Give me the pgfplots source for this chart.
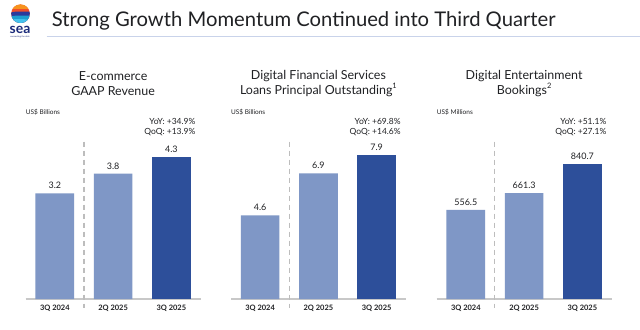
\documentclass[border=0pt]{standalone}
\usepackage{fontspec}
\setmainfont{Lato}
\usepackage{pgfplots}
\pgfplotsset{compat=1.18}
\definecolor{lightbar}{HTML}{7F97C6}
\definecolor{darkbar}{HTML}{2D4F9A}
\definecolor{axisgray}{HTML}{C8C8C8}
\definecolor{dashgray}{HTML}{BDBDBD}
\definecolor{txt}{HTML}{202124}
\definecolor{rulec}{HTML}{C9D3EA}
\definecolor{seanavy}{HTML}{1B2A7A}
\definecolor{logoA}{HTML}{F04E2B}
\definecolor{logoB}{HTML}{F7931E}
\definecolor{logoC}{HTML}{2B3A9C}
\definecolor{logoD}{HTML}{1E9FD0}
\definecolor{logoE}{HTML}{45C1EC}
\pgfplotsset{
 panel/.style={
  scale only axis, width=174.8bp, anchor=south west,
  xmin=-0.5, xmax=2.5, ymin=0,
  axis x line=bottom, axis y line=none,
  axis line style={draw=axisgray, line width=1.2bp, -},
  xtick={0,1,2}, xticklabels={3Q 2024,2Q 2025,3Q 2025},
  major tick length=0pt,
  xticklabel style={font=\fontsize{7.5}{8}\selectfont\bfseries, text=txt, yshift=-2.5bp},
  ytick=\empty,
  clip=false,
  nodes near coords, point meta=explicit symbolic,
  every node near coord/.append style={font=\fontsize{9}{10}\selectfont, text=txt, anchor=south, yshift=1bp},
 },
 lbar/.style={ybar, bar width=38.7bp, bar shift=0pt, fill=lightbar, draw=none},
 dbar/.style={ybar, bar width=38.7bp, bar shift=0pt, fill=darkbar, draw=none},
}
\newcommand{\supnum}[1]{\raisebox{0.9ex}{\fontsize{7.5}{8}\selectfont #1}}
\begin{document}
\begin{tikzpicture}[x=1bp,y=1bp]
\useasboundingbox (0,0) rectangle (640,329);
\fill[white] (0,0) rectangle (640,329);
% logo
\begin{scope}
\clip (20.5,315.3) circle (9.3);
\fill[logoA] (10,306) rectangle (31,326);
\fill[logoB] (10,320) rectangle (31,326);
\fill[logoC] (10,306) -- (31,306) -- (31,318) .. controls (26,316) and (16,319) .. (10,316) -- cycle;
\fill[logoD] (10,306) -- (31,306) -- (31,314) .. controls (26,312) and (16,315) .. (10,312) -- cycle;
\fill[logoE] (10,306) -- (31,306) -- (31,310) .. controls (26,309) and (16,311) .. (10,309) -- cycle;
\end{scope}
\node[font=\fontsize{14}{14}\selectfont\bfseries, text=seanavy, inner sep=0] at (20,299.5) {sea};
\node[font=\fontsize{2.2}{2.5}\selectfont, text=seanavy, inner sep=0] at (20,292) {connecting the dots};
% header
\node[anchor=base west, font=\fontsize{20.3}{24}\selectfont, text=txt, inner sep=0] at (51.7,302.3) {Strong Growth Momentum Continued into Third Quarter};
\draw[rulec, line width=1bp] (46.7,293) -- (640,293);

% ---------- panel 1
\begin{axis}[panel, at={(25.7bp,30bp)}, height=165bp, ymax=5]
\addplot[lbar] coordinates {(0,3.2)[3.2] (1,3.8)[3.8]};
\addplot[dbar] coordinates {(2,4.3)[4.3]};
\end{axis}
\node[align=center, font=\fontsize{12.5}{15}\selectfont, text=txt] at (113.1,245.5) {E-commerce\\GAAP Revenue};
\node[anchor=west, font=\fontsize{6.5}{7}\selectfont, text=txt, inner sep=0] at (25.7,217) {US\$ Billions};
\node[anchor=east, align=right, font=\fontsize{8.5}{9.2}\selectfont, text=txt, inner sep=0] at (195.5,202) {YoY: +34.9\%\\QoQ: +13.9\%};
\draw[dashgray, dash pattern=on 5bp off 4bp, line width=1.2bp] (84,187.3) -- (84,21);

% ---------- panel 2
\begin{axis}[panel, at={(231bp,30bp)}, height=163.8bp, ymax=9]
\addplot[lbar] coordinates {(0,4.6)[4.6] (1,6.9)[6.9]};
\addplot[dbar] coordinates {(2,7.9)[7.9]};
\end{axis}
\node[align=center, font=\fontsize{12.5}{15}\selectfont, text=txt] at (318.4,245.5) {Digital Financial Services\\Loans Principal Outstanding\supnum{1}};
\node[anchor=west, font=\fontsize{6.5}{7}\selectfont, text=txt, inner sep=0] at (231,217) {US\$ Billions};
\node[anchor=east, align=right, font=\fontsize{8.5}{9.2}\selectfont, text=txt, inner sep=0] at (400.8,202) {YoY: +69.8\%\\QoQ: +14.6\%};
\draw[dashgray, dash pattern=on 5bp off 4bp, line width=1.2bp] (289.3,187.3) -- (289.3,21);

% ---------- panel 3
\begin{axis}[panel, at={(436.7bp,30bp)}, height=160bp, ymax=1000]
\addplot[lbar] coordinates {(0,556.5)[556.5] (1,661.3)[661.3]};
\addplot[dbar] coordinates {(2,840.7)[840.7]};
\end{axis}
\node[align=center, font=\fontsize{12.5}{15}\selectfont, text=txt] at (524.1,245.5) {Digital Entertainment\\Bookings\supnum{2}};
\node[anchor=west, font=\fontsize{6.5}{7}\selectfont, text=txt, inner sep=0] at (436.7,217) {US\$ Millions};
\node[anchor=east, align=right, font=\fontsize{8.5}{9.2}\selectfont, text=txt, inner sep=0] at (606.5,202) {YoY: +51.1\%\\QoQ: +27.1\%};
\draw[dashgray, dash pattern=on 5bp off 4bp, line width=1.2bp] (494.8,187.3) -- (494.8,21);
\end{tikzpicture}
\end{document}
